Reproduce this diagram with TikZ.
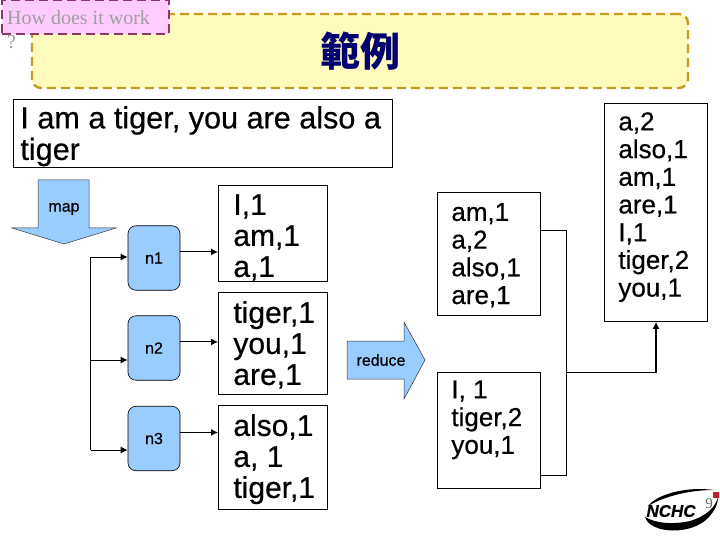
\documentclass[tikz,border=0pt]{standalone}
\usepackage{fontspec}
\setmainfont{Liberation Sans}[FakeBold=0.5]
\newfontfamily\tagface{Liberation Serif}
\newfontfamily\titleface{Noto Sans CJK TC}
\usetikzlibrary{arrows.meta}
\definecolor{workerblue}{RGB}{153,204,255}
\definecolor{bandfill}{RGB}{255,251,188}
\definecolor{bandline}{RGB}{197,155,32}
\definecolor{tagfill}{RGB}{255,204,255}
\definecolor{tagline}{RGB}{146,52,108}
\definecolor{titlenavy}{RGB}{0,0,110}
\definecolor{logored}{RGB}{190,30,50}
\begin{document}
\begin{tikzpicture}[x=1pt, y=-1pt,
    wire/.style={draw=black, line width=1pt},
    link/.style={wire, -{Latex[length=7pt,width=7pt]}},
    textbox/.style={draw=black, fill=white, line width=0.8pt, anchor=north west,
        align=flush left, inner ysep=0pt},
    big result/.style={textbox, inner xsep=15pt, text width=79pt,
        font=\fontsize{30}{31}\selectfont},
    small result/.style={textbox, inner xsep=14pt, text width=75pt,
        font=\fontsize{26}{27.7}\selectfont},
    worker/.style={draw=black, fill=workerblue, rounded corners=8pt, line width=0.6pt,
        minimum width=52pt, minimum height=64.5pt, inner sep=0pt,
        font=\fontsize{16}{18}\selectfont},
    banner/.style={draw=black!80, fill=workerblue, line width=0.5pt},
    banner label/.style={font=\fontsize{16}{18}\selectfont, inner sep=0pt},
    logo/.style={fill=black, draw=none}
]
\path[use as bounding box] (0,0) rectangle (720,540);

% title band and corner tag
\node[draw=bandline, fill=bandfill, line width=2.4pt, dash pattern=on 9pt off 5pt,
    rounded corners=9pt, minimum width=656pt, minimum height=74pt, inner sep=0pt,
    text=titlenavy, font=\titleface\bfseries\fontsize{40}{44}\selectfont]
    (band) at (360,51) {範例};
\node[draw=tagline, fill=tagfill, line width=2.4pt, dash pattern=on 9pt off 5pt,
    anchor=north west, inner xsep=5pt, inner ysep=0pt, text width=157pt,
    text height=24pt, text depth=10pt, align=flush left, text=black!38,
    font=\tagface\fontsize{20}{24}\selectfont]
    (tag) at (1,-1) {How does it work\\?};

% sentence
\node[textbox, inner xsep=7pt, text width=365pt, text height=28.5pt, text depth=39pt,
    font=\fontsize{30.6}{31.5}\selectfont]
    (sentence) at (13,99.5) {I am a tiger, you are also a\\tiger};

% big arrows
\draw[banner] (38,180) -- (89,180) -- (89,228) -- (116,228) -- (64,244) -- (12,228)
    -- (38,228) -- cycle;
\node[banner label] (map) at (64,209) {map};
\draw[banner] (347,341) -- (404,341) -- (404,322) -- (425,360) -- (404,399)
    -- (404,379) -- (347,379) -- cycle;
\node[banner label] (reduce) at (381,360) {reduce};

% map side
\node[worker] (n1) at (154,258) {n1};
\node[worker] (n2) at (154,348) {n2};
\node[worker] (n3) at (154,438.5) {n3};

\node[big result, text height=29.5pt, text depth=66.5pt] (r1) at (218,185)
    {I,1\\am,1\\a,1};
\node[big result, text height=30.5pt, text depth=71.5pt] (r2) at (218,292)
    {tiger,1\\you,1\\are,1};
\node[big result, text height=30.5pt, text depth=73.5pt] (r3) at (218,405)
    {also,1\\a, 1\\tiger,1};

\coordinate (fork1) at (90.7,257);
\coordinate (fork2) at (90.7,360);
\coordinate (fork3) at (90.7,450);

\draw[wire] (fork1) -- (fork3);
\draw[link] (fork1) -- (fork1 -| n1.west);
\draw[link] (fork2) -- (fork2 -| n2.west);
\draw[link] (fork3) -- (fork3 -| n3.west);

\draw[link] (n1.13) -- (n1.13 -| r1.west);
\draw[link] (n2.13) -- (n2.13 -| r2.west);
\draw[link] (n3.13) -- (n3.13 -| r3.west);

% reduce side
\node[small result, text height=28.5pt, text depth=94.5pt] (r4) at (437,192)
    {am,1\\a,2\\also,1\\are,1};
\node[small result, text height=26pt, text depth=90pt] (r5) at (437,372)
    {I, 1\\tiger,2\\you,1};
\node[small result, text height=27pt, text depth=191pt] (r6) at (604,103)
    {a,2\\also,1\\am,1\\are,1\\I,1\\tiger,2\\you,1};

\coordinate (joinr4) at (566,231);
\coordinate (joinr5) at (566,475);
\coordinate (joinmid) at (566,372.5);
\coordinate (riser) at (656,372.5);

\draw[wire] (joinr4 -| r4.east) -- (joinr4) -- (joinr5) -- (joinr5 -| r5.east);
\draw[wire] (joinmid) -- (riser);
\draw[wire, line width=1.8pt, -{Latex[length=7pt,width=7pt]}] (riser) -- (riser |- r6.south);

% logo
\fill[logo] (648,506) .. controls (656,495) and (685,486) .. (714,490)
    .. controls (690,490) and (665,496) .. (648,506) -- cycle;
\fill[logo] (645,517) .. controls (650,534) and (692,536) .. (709,517)
    .. controls (715,510) and (718,504) .. (718,497)
    .. controls (715,508) and (706,516) .. (690,521)
    .. controls (672,525) and (655,523) .. (645,517) -- cycle;
\node[inner sep=0pt, font=\bfseries\itshape\fontsize{17}{19}\selectfont] (nchc) at (671,511) {NCHC};
\fill[logored] (713,492) rectangle (719,498);
\node[inner sep=0pt, text=black!60, font=\tagface\fontsize{15}{17}\selectfont] (pagenum) at (709,504) {9};
\end{tikzpicture}
\end{document}
